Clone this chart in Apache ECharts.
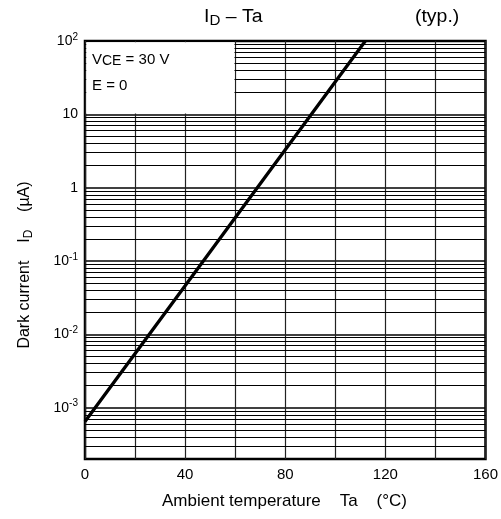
<!DOCTYPE html>
<html>
<head>
<meta charset="utf-8">
<script src="https://cdn.jsdelivr.net/npm/echarts@6/dist/echarts.min.js"></script>
<style>
  html, body { margin: 0; padding: 0; background: #fff; }
  #main { width: 501px; height: 519px; }
</style>
</head>
<body>
<div id="main"></div>
<script>
// values
const temps = [0, 40, 80, 112];
const darkCurrent = [6.5e-4, 0.046, 3.3, 100];
const xTicks = [0, 40, 80, 120, 160];
const yMin = 2e-4, yMax = 100;
const noteBox = [[0, 100], [60, 10]]; // blank area behind the conditions text

// minor log grid lines 2..9 x 10^n
const minorLines = [];
for (let e = -4; e <= 1; e++) {
  for (let k = 2; k <= 9; k++) {
    const v = k * Math.pow(10, e);
    if (v > yMin && v < yMax) minorLines.push({ yAxis: v });
  }
}

const chart = echarts.init(document.getElementById('main'));
const font = 'Liberation Sans, Arial, sans-serif';

chart.setOption({
  animation: false,
  grid: {
    left: 85, right: 15, top: 41, bottom: 60,
    show: true, borderColor: '#000', borderWidth: 2.5, backgroundColor: 'transparent'
  },
  xAxis: {
    type: 'value', min: 0, max: 160, interval: 20,
    axisLine: { show: false }, axisTick: { show: false },
    axisLabel: {
      color: '#000', fontFamily: font, fontSize: 15, margin: 8,
      formatter: v => xTicks.indexOf(v) >= 0 ? String(v) : ''
    },
    splitLine: { show: true, lineStyle: { color: '#222', width: 1.2 } }
  },
  yAxis: {
    type: 'log', logBase: 10, min: yMin, max: yMax,
    axisLine: { show: false }, axisTick: { show: false },
    axisLabel: {
      color: '#000', fontFamily: font, fontSize: 14, margin: 7,
      formatter: function (v) {
        const e = Math.round(Math.log10(v));
        if (Math.abs(v - Math.pow(10, e)) > 1e-9 * Math.pow(10, e)) return '';
        if (e === 0) return '1';
        if (e === 1) return '10';
        return '10{sup|' + e + '}';
      },
      rich: { sup: { fontSize: 10, verticalAlign: 'top', padding: [0, 0, 8, 0], fontFamily: font, color: '#000' } }
    },
    splitLine: { show: true, lineStyle: { color: '#000', width: 1.6 } }
  },
  series: [
    {
      type: 'line', data: [], z: 2, silent: true,
      markLine: {
        silent: true, symbol: 'none', animation: false, precision: 8,
        label: { show: false },
        lineStyle: { color: '#000', width: 1.2, type: 'solid' },
        data: minorLines
      }
    },
    {
      type: 'line', z: 5, showSymbol: false, silent: true,
      lineStyle: { color: '#000', width: 3.3 },
      data: temps.map((t, i) => [t, darkCurrent[i]])
    }
  ]
});

// white box over the top-left grid, placed through the axes
let p0 = chart.convertToPixel({ xAxisIndex: 0, yAxisIndex: 0 }, noteBox[0]);
let p1 = chart.convertToPixel({ xAxisIndex: 0, yAxisIndex: 0 }, noteBox[1]);
if (!p0 || isNaN(p0[0]) || isNaN(p1[1])) { p0 = [85, 41]; p1 = [236, 114]; }

chart.setOption({
  graphic: [
    {
      type: 'rect', z: 50, zlevel: 0, silent: true,
      shape: { x: p0[0] + 1.3, y: p0[1] + 1.3, width: p1[0] - p0[0] - 2, height: p1[1] - p0[1] - 2.2 },
      style: { fill: '#ffffff', stroke: null }
    },
    {
      type: 'text', left: 204, top: 8, scaleX: 1.08,
      style: {
        text: 'I{sub|D} – Ta', fontFamily: font, fontSize: 18, fill: '#000',
        rich: { sub: { fontSize: 14, verticalAlign: 'bottom', padding: [8, 0, 0, 0], fontFamily: font } }
      }
    },
    {
      type: 'text', left: 415, top: 8, scaleX: 1.08,
      style: { text: '(typ.)', fontFamily: font, fontSize: 18, fill: '#000' }
    },
    {
      type: 'text', left: 92, top: 52, z: 60,
      style: {
        text: 'V{sub|CE} = 30 V', fontFamily: font, fontSize: 15, fill: '#000',
        rich: { sub: { fontSize: 14, verticalAlign: 'bottom', padding: [3, 0, 0, 0], fontFamily: font } }
      }
    },
    {
      type: 'text', left: 92, top: 78, z: 60,
      style: { text: 'E = 0', fontFamily: font, fontSize: 15, fill: '#000' }
    },
    {
      type: 'text', left: 162, top: 493,
      style: { text: 'Ambient temperature    Ta    (°C)', fontFamily: font, fontSize: 17, fill: '#000' }
    },
    {
      type: 'text', x: 25, y: 265, rotation: Math.PI / 2,
      style: {
        text: 'Dark current    I{sub|D}    (µA)', fontFamily: font, fontSize: 16, fill: '#000',
        align: 'center', verticalAlign: 'middle',
        rich: { sub: { fontSize: 12, verticalAlign: 'bottom', padding: [8, 0, 0, 0], fontFamily: font } }
      }
    }
  ]
});
</script>
</body>
</html>
